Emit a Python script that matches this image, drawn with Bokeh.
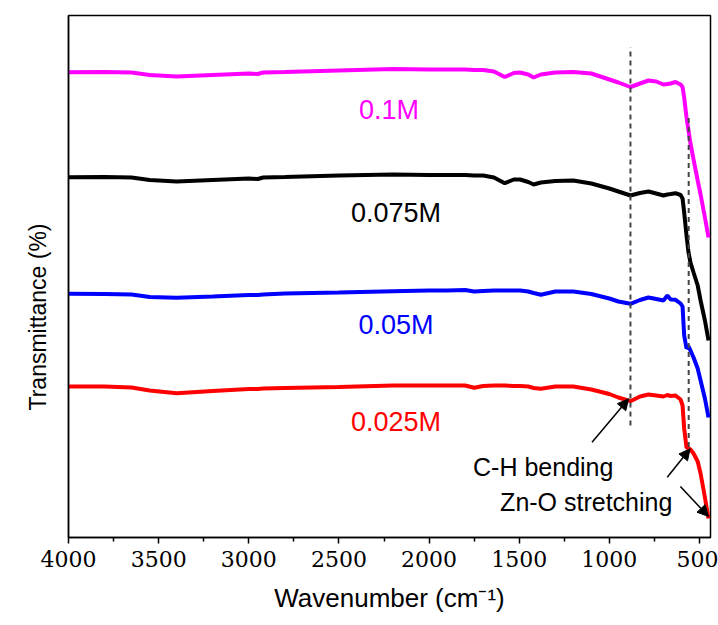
from bokeh.plotting import figure
from bokeh.models import Range1d, FixedTicker, Label, Arrow, NormalHead, Title
from bokeh.embed import file_html
from bokeh.resources import INLINE

# ---------------- data ----------------
wavenumber = [4000, 3800, 3650, 3550, 3400, 3200, 3000, 2950, 2920, 2800, 2500, 2200,
              2000, 1900, 1800, 1750, 1700, 1640, 1580, 1530, 1495, 1450, 1420, 1380,
              1300, 1200, 1100, 1000, 950, 883, 830, 783, 740, 700, 678, 660, 633, 605,
              594, 585, 572, 561, 550, 533, 510, 494, 470, 450]

t_01M = [465.3, 465.5, 465, 462.5, 461, 462.5, 464, 463.5, 465, 465.5, 467, 468.5,
         468, 468, 468, 467.5, 467.5, 466, 460.5, 464.5, 465, 463, 460, 463,
         465, 465.5, 464, 458, 455, 450.5, 454, 457, 456, 453, 453.5, 454, 455.5, 453,
         450.5, 440, 420, 407, 394, 378, 357, 343, 320, 300]

t_0075M = [360.3, 360.5, 360, 357.5, 356, 357.5, 359, 358.5, 360, 360.5, 362, 363,
           362.5, 362.5, 362.5, 362, 362, 360, 354.3, 358, 358, 355.5, 353, 355,
           356.5, 357, 354, 349, 346, 342, 344.5, 346, 344, 342, 343, 343.5, 344.3, 342.5,
           339, 325, 302, 285, 275, 265, 252, 237, 217, 197]

t_005M = [243.7, 243.5, 243, 240.5, 239.7, 241, 242.5, 242.5, 243, 244, 245, 246.3,
          247, 247, 247.5, 246, 246.5, 247, 247, 247, 247, 246, 244.5, 242.7,
          246, 246, 243.5, 239, 236, 233.7, 237.5, 240, 238.5, 237, 242, 238, 237.7, 234,
          231, 202, 189, 191, 187, 180, 169, 157, 139, 120]

t_0025M = [151, 151, 150, 147, 144.3, 146.5, 148.5, 148.5, 149, 149.5, 150.5, 152,
           152, 152, 152, 149.7, 151.5, 152, 152, 151.5, 151.5, 151, 149.5, 148.7,
           151, 151, 148, 143.5, 140, 136.3, 141, 143, 142, 141, 142.5, 141.5, 142, 138,
           132, 109, 90, 89.5, 88, 84, 76, 64, 40, 19]

series_names = ["0.1M", "0.075M", "0.05M", "0.025M"]
series_values = [t_01M, t_0075M, t_005M, t_0025M]
series_colors = ["#ff00ff", "#000000", "#0000ff", "#ff0000"]
label_x = [2222, 2183, 2183, 2183]
label_y = [428, 325, 212.7, 116]

x_ticks = [4000, 3500, 3000, 2500, 2000, 1500, 1000, 500]
x_minor_ticks = [3750, 3250, 2750, 2250, 1750, 1250, 750]

# dashed guide lines: wavenumber, bottom, top
guide_x = [883, 560]
guide_y0 = [112, 90.5]
guide_y1 = [490.3, 420.3]

# annotations
ann_texts = ["C-H bending", "Zn-O stretching"]
ann_x = [1756, 1606]
ann_y = [71, 35.3]
arrow_x0 = [1096, 679, 606]
arrow_y0 = [95.3, 60.3, 51]
arrow_x1 = [893, 552, 450]
arrow_y1 = [138.7, 88.7, 21]

SANS = "Liberation Sans"

# ---------------- figure ----------------
p = figure(width=718, height=625, output_backend="svg", toolbar_location=None,
           x_range=Range1d(4000, 439), y_range=Range1d(0, 522),
           min_border_left=68, min_border_right=8, min_border_top=15, min_border_bottom=88)
p.background_fill_color = "white"
p.border_fill_color = "white"
p.grid.visible = False
p.outline_line_color = "black"
p.outline_line_width = 1.5

xa = p.xaxis[0]
xa.ticker = FixedTicker(ticks=x_ticks, minor_ticks=x_minor_ticks)
xa.major_label_text_font = "DejaVu Serif"
xa.major_label_text_font_size = "22px"
xa.major_label_text_color = "black"
xa.major_tick_in = 0
xa.major_tick_out = 6
xa.minor_tick_in = 0
xa.minor_tick_out = 4
xa.axis_line_width = 1.5
xa.major_tick_line_width = 1.5
xa.minor_tick_line_width = 1.5
xa.major_label_standoff = 7
xa.axis_label = "Wavenumber (cm\u207b\u00b9)"
xa.axis_label_text_font = SANS
xa.axis_label_text_font_style = "normal"
xa.axis_label_text_font_size = "26px"
xa.axis_label_text_color = "black"
xa.axis_label_standoff = 13

ya = p.yaxis[0]
ya.ticker = FixedTicker(ticks=[], minor_ticks=[])
ya.major_tick_line_color = None
ya.minor_tick_line_color = None
ya.major_tick_out = 0
ya.major_label_standoff = 0
ya.axis_line_width = 1.5

for name, vals, col in zip(series_names, series_values, series_colors):
    p.line(wavenumber, vals, line_color=col, line_width=4)

p.segment(x0=guide_x, y0=guide_y0, x1=guide_x, y1=guide_y1,
          line_color="#444444", line_width=2, line_dash="5 4")

for name, lx, ly, col in zip(series_names, label_x, label_y, series_colors):
    p.add_layout(Label(x=lx, y=ly, text=name, text_color=col, text_font=SANS,
                       text_font_size="27px", text_align="center", text_baseline="alphabetic"))

for t, tx, ty in zip(ann_texts, ann_x, ann_y):
    p.add_layout(Label(x=tx, y=ty, text=t, text_color="black", text_font=SANS,
                       text_font_size="25px", text_align="left", text_baseline="alphabetic"))

for x0, y0, x1, y1 in zip(arrow_x0, arrow_y0, arrow_x1, arrow_y1):
    p.add_layout(Arrow(x_start=x0, y_start=y0, x_end=x1, y_end=y1, line_width=1.5,
                       line_color="black",
                       end=NormalHead(size=11, fill_color="black", line_color="black")))

p.add_layout(Title(text="Transmittance (%)", align="left", offset=127, standoff=36,
                   text_font=SANS, text_font_size="23px", text_font_style="normal",
                   text_color="black"), "left")

open("out.html", "w").write(file_html(p, INLINE))
